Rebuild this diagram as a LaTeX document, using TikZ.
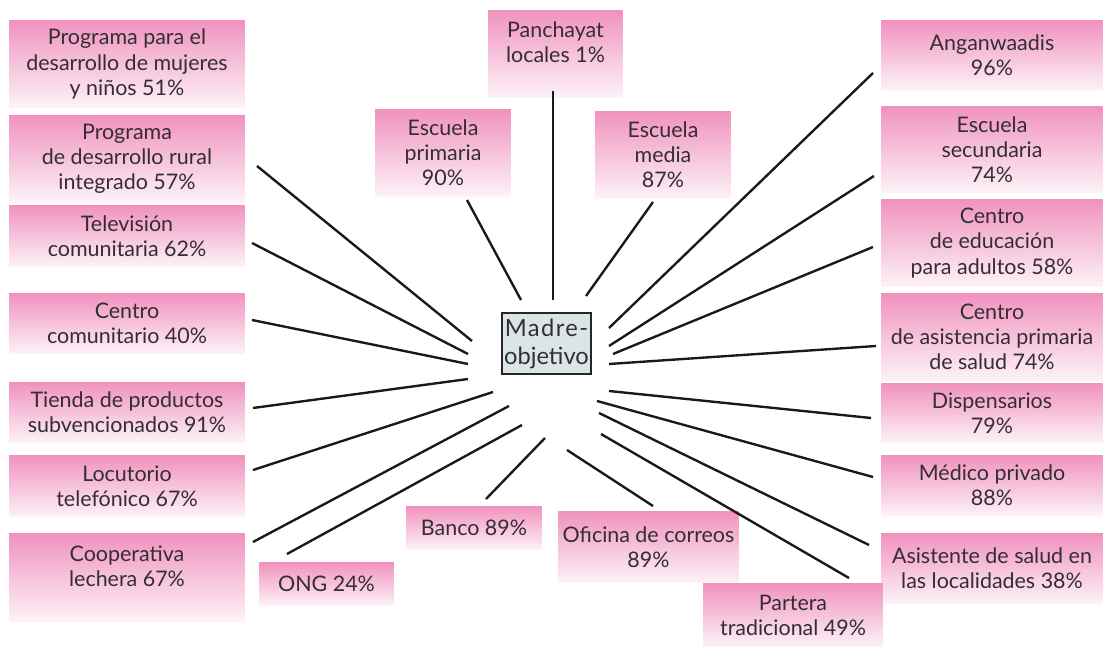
\documentclass[tikz,border=0pt]{standalone}
\usepackage{fontspec}
\setmainfont{Lato}
\usepackage{tikz}

\definecolor{rosa}{RGB}{240,146,190}
\definecolor{rosaclaro}{RGB}{253,243,248}
\definecolor{azulgris}{RGB}{218,229,232}
\definecolor{tinta}{RGB}{52,46,50}

\tikzset{
  rotulo/.style={align=center, text=tinta, font=\fontsize{12.2}{14.3}\selectfont, inner sep=0pt},
  caja/.style={rotulo, shading=axis, top color=rosa, bottom color=rosaclaro},
  madre/.style={rotulo, draw=black!85, line width=1.3pt, fill=azulgris, font=\fontsize{13.5}{16}\selectfont},
  radio/.style={line width=1.35pt, black!90}
}

\begin{document}
\begin{tikzpicture}[x=0.02cm, y=-0.02cm]
    \useasboundingbox (0,0) rectangle (1103,648);

    % left column
    \node[caja, minimum width=4.72cm, minimum height=1.76cm] (mujeres) at (127,64) {Programa para el\\desarrollo de mujeres\\y niños 51\%};
    \node[caja, minimum width=4.72cm, minimum height=1.76cm] (rural) at (127,159) {Programa\\de desarrollo rural\\integrado 57\%};
    \node[caja, minimum width=4.72cm, minimum height=1.24cm] (tele) at (127,236) {Televisión\\comunitaria 62\%};
    \node[caja, minimum width=4.72cm, minimum height=1.22cm] (comunit) at (127,323.5) {Centro\\comunitario 40\%};
    \node[caja, minimum width=4.72cm, minimum height=1.22cm] (tienda) at (127,412.5) {Tienda de productos\\subvencionados 91\%};
    \node[caja, minimum width=4.72cm, minimum height=1.24cm] (locut) at (127,486) {Locutorio\\telefónico 67\%};
    \node[caja, minimum width=4.72cm, minimum height=1.78cm] (coop) at (127,577.5) {};
    \node[rotulo] (coop-t) at (127,566) {Cooperativa\\lechera 67\%};

    % top
    \node[caja, minimum width=2.70cm, minimum height=1.76cm] (panch) at (555.5,54) {};
    \node[rotulo] (panch-t) at (555.5,42) {Panchayat\\locales 1\%};
    \node[caja, minimum width=2.72cm, minimum height=1.76cm] (primaria) at (443,153) {Escuela\\primaria\\90\%};
    \node[caja, minimum width=2.72cm, minimum height=1.76cm] (media) at (663,155) {Escuela\\media\\87\%};

    % right column
    \node[caja, minimum width=4.44cm, minimum height=1.42cm] (angan) at (992,55.5) {Anganwaadis\\96\%};
    \node[caja, minimum width=4.44cm, minimum height=1.74cm] (secund) at (992,149.5) {Escuela\\secundaria\\74\%};
    \node[caja, minimum width=4.44cm, minimum height=1.76cm] (adultos) at (992,243) {Centro\\de educación\\para adultos 58\%};
    \node[caja, minimum width=4.44cm, minimum height=1.76cm] (salud) at (992,337) {Centro\\de asistencia primaria\\de salud 74\%};
    \node[caja, minimum width=4.44cm, minimum height=1.20cm] (dispens) at (992,413) {Dispensarios\\79\%};
    \node[caja, minimum width=4.44cm, minimum height=1.22cm] (medico) at (992,485.5) {Médico privado\\88\%};
    \node[caja, minimum width=4.44cm, minimum height=1.42cm] (asist) at (992,568.5) {Asistente de salud en\\las localidades 38\%};

    % bottom
    \node[caja, minimum width=2.70cm, minimum height=0.88cm] (ong) at (326.5,584) {ONG 24\%};
    \node[caja, minimum width=2.72cm, minimum height=0.88cm] (banco) at (474,528) {Banco 89\%};
    \node[caja, minimum width=3.62cm, minimum height=1.44cm] (correos) at (648.5,547) {Oficina de correos\\89\%};
    \node[caja, minimum width=3.60cm, minimum height=1.28cm] (partera) at (793,615) {Partera\\tradicional 49\%};

    % centre
    \node[madre, minimum width=1.78cm, minimum height=1.22cm] (objetivo) at (546.5,343.5) {{\addfontfeature{LetterSpace=6}Madre-}\\objetivo};

    % ends of the rays
    \coordinate (rural-a) at (257,166);   \coordinate (rural-b) at (472,341);
    \coordinate (tele-a) at (252,243);    \coordinate (tele-b) at (468,354);
    \coordinate (comunit-a) at (252,320); \coordinate (comunit-b) at (468,364);
    \coordinate (tienda-a) at (253,408);  \coordinate (tienda-b) at (468,379);
    \coordinate (locut-a) at (253,470);   \coordinate (locut-b) at (493,392);
    \coordinate (coop-a) at (253,542);    \coordinate (coop-b) at (509,406);
    \coordinate (ong-a) at (287,554);     \coordinate (ong-b) at (522,425);
    \coordinate (banco-a) at (486,499);   \coordinate (banco-b) at (545,438);
    \coordinate (correos-a) at (653,506); \coordinate (correos-b) at (567,450);
    \coordinate (partera-a) at (849,578); \coordinate (partera-b) at (601,434);
    \coordinate (asist-a) at (869,545);   \coordinate (asist-b) at (599,413);
    \coordinate (medico-a) at (873,477);  \coordinate (medico-b) at (597,401);
    \coordinate (dispens-a) at (871,418); \coordinate (dispens-b) at (609,391);
    \coordinate (salud-a) at (876,346);   \coordinate (salud-b) at (609,364);
    \coordinate (adultos-a) at (873,247); \coordinate (adultos-b) at (613,354);
    \coordinate (secund-a) at (874,176);  \coordinate (secund-b) at (609,346);
    \coordinate (angan-a) at (873,73);    \coordinate (angan-b) at (609,328);
    \coordinate (media-a) at (653,202);   \coordinate (media-b) at (586,296);
    \coordinate (panch-a) at (553,91);    \coordinate (panch-b) at (553,300);
    \coordinate (primaria-a) at (467,200); \coordinate (primaria-b) at (521,300);

    \draw[radio] (rural-a) -- (rural-b);
    \draw[radio] (tele-a) -- (tele-b);
    \draw[radio] (comunit-a) -- (comunit-b);
    \draw[radio] (tienda-a) -- (tienda-b);
    \draw[radio] (locut-a) -- (locut-b);
    \draw[radio] (coop-a) -- (coop-b);
    \draw[radio] (ong-a) -- (ong-b);
    \draw[radio] (banco-a) -- (banco-b);
    \draw[radio] (correos-a) -- (correos-b);
    \draw[radio] (partera-a) -- (partera-b);
    \draw[radio] (asist-a) -- (asist-b);
    \draw[radio] (medico-a) -- (medico-b);
    \draw[radio] (dispens-a) -- (dispens-b);
    \draw[radio] (salud-a) -- (salud-b);
    \draw[radio] (adultos-a) -- (adultos-b);
    \draw[radio] (secund-a) -- (secund-b);
    \draw[radio] (angan-a) -- (angan-b);
    \draw[radio] (media-a) -- (media-b);
    \draw[radio] (panch-a) -- (panch-b);
    \draw[radio] (primaria-a) -- (primaria-b);
\end{tikzpicture}
\end{document}
